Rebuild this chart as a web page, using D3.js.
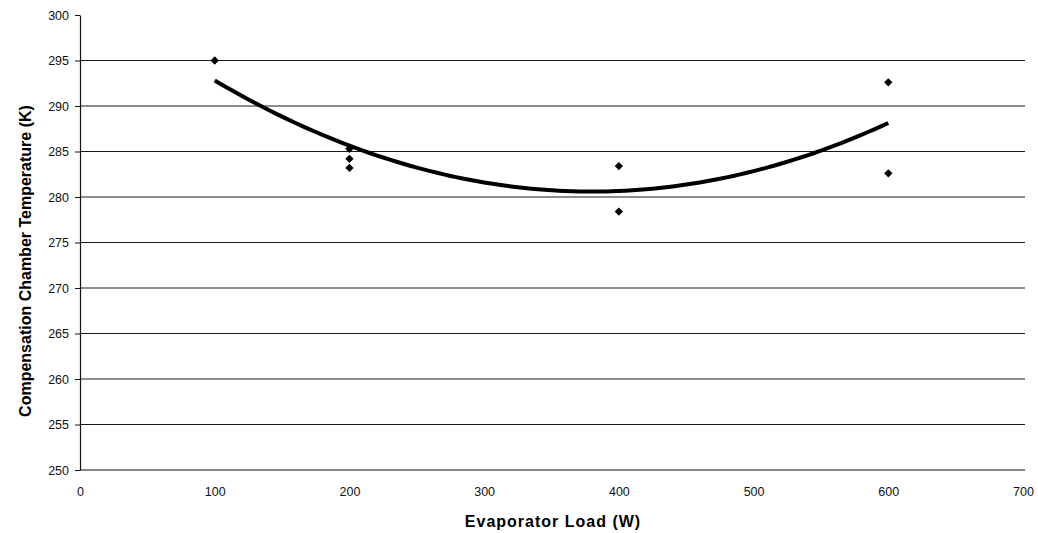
<!DOCTYPE html>
<html><head><meta charset="utf-8">
<script src="https://cdn.jsdelivr.net/npm/d3@7"></script>
<style>body{margin:0;background:#fff}svg{display:block}text{font-family:Arial,"Liberation Sans",sans-serif}</style>
</head><body><svg id="c" width="1038" height="533"></svg>
<script>
const loadW = [100, 200, 200, 200, 400, 400, 600, 600];
const tempK = [295, 285.3, 284.2, 283.2, 283.4, 278.4, 292.6, 282.6];
const xTicks = [0, 100, 200, 300, 400, 500, 600, 700];
const yTicks = [250, 255, 260, 265, 270, 275, 280, 285, 290, 295, 300];
// polynomial trendline (2nd order): vertex x, vertex y, curvature, x range
const trendVertex = [380, 280.6];
const trendCurv = [1.556e-4];
const trendRange = [100, 600];

const svg = d3.select("#c");
const x = d3.scaleLinear().domain([0, 700]).range([80, 1023]);
const y = d3.scaleLinear().domain([250, 300]).range([470, 15]);

// gridlines
svg.append("g").selectAll("line").data(yTicks.filter(v => v > 250 && v < 300)).join("line")
  .attr("x1", x(0)).attr("x2", 1025).attr("y1", d => y(d)).attr("y2", d => y(d))
  .attr("stroke", "#1a1a1a").attr("stroke-width", 1.2);

// y axis
const ya = d3.axisLeft(y).tickValues(yTicks).tickSize(5).tickSizeOuter(0).tickPadding(6);
const yg = svg.append("g").attr("transform", `translate(${x(0)},0)`).call(ya);
yg.select(".domain").attr("stroke", "#111").attr("stroke-width", 1.2);
yg.selectAll(".tick line").attr("stroke", "#111");
yg.selectAll(".tick text").attr("font-size", 12.5).attr("fill", "#111");

// x axis
const xa = d3.axisBottom(x).tickValues(xTicks).tickSize(0).tickSizeOuter(0).tickPadding(17);
const xg = svg.append("g").attr("transform", `translate(0,${y(250)})`).call(xa);
xg.select(".domain").attr("stroke", "#111").attr("stroke-width", 1.2).attr("d", `M${x(0)},0H1025`);
xg.selectAll(".tick text").attr("font-size", 12.5).attr("fill", "#111");

// trendline
const fx = v => trendVertex[1] + trendCurv[0] * (v - trendVertex[0]) ** 2;
const tx = d3.range(trendRange[0], trendRange[1] + 1, 5);
svg.append("path").datum(tx)
  .attr("d", d3.line().x(d => x(d)).y(d => y(fx(d))).curve(d3.curveMonotoneX))
  .attr("fill", "none").attr("stroke", "#000").attr("stroke-width", 4);

// markers
const diamond = d3.symbol().type(d3.symbolDiamond2).size(44);
svg.append("g").selectAll("path").data(loadW.map((v, i) => [v, tempK[i]])).join("path")
  .attr("d", diamond).attr("transform", d => `translate(${x(d[0])},${y(d[1])})`)
  .attr("fill", "#000");

// titles
svg.append("text").attr("x", 553).attr("y", 527).attr("text-anchor", "middle")
  .attr("font-size", 16).attr("font-weight", "bold").attr("letter-spacing", 1)
  .text("Evaporator Load (W)");
svg.append("text").attr("transform", "translate(31,261) rotate(-90)").attr("text-anchor", "middle")
  .attr("font-size", 16).attr("font-weight", "bold").text("Compensation Chamber Temperature (K)");
</script></body></html>
